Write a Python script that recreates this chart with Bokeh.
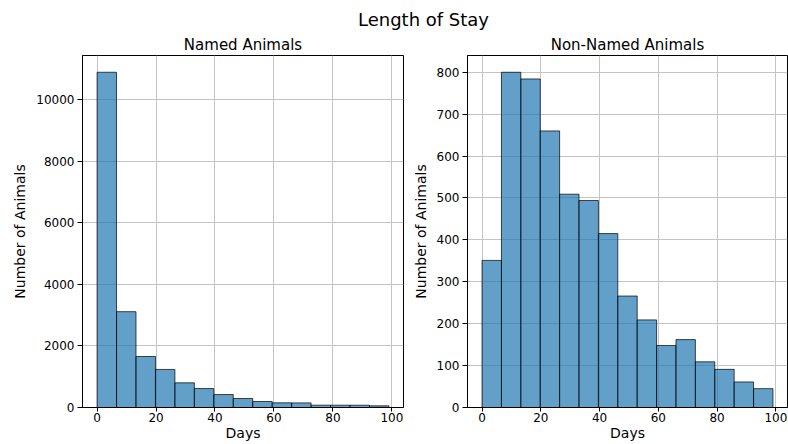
import numpy as np
from bokeh.plotting import figure
from bokeh.layouts import column, row
from bokeh.models import FixedTicker, Label, Range1d
from bokeh.embed import file_html
from bokeh.resources import INLINE

# ---- data ----
bin_start = 0
bin_end = 99
n_bins = 15
named_counts = [10880, 3110, 1655, 1235, 800, 615, 420, 292, 195, 152, 150, 76, 75, 74, 54]
non_named_counts = [351, 800, 784, 660, 509, 494, 415, 266, 209, 148, 162, 109, 91, 61, 45]
x_ticks = [0, 20, 40, 60, 80, 100]
named_y_ticks = [0, 2000, 4000, 6000, 8000, 10000]
non_named_y_ticks = [0, 100, 200, 300, 400, 500, 600, 700, 800]
suptitle = "Length of Stay"
titles = ["Named Animals", "Non-Named Animals"]
x_label = "Days"
y_label = "Number of Animals"

FONT = "DejaVu Sans"
edges = np.linspace(bin_start, bin_end, n_bins + 1)
pad = 0.05 * (bin_end - bin_start)


def style_axis(ax, tick_out, label_standoff, axis_label_standoff):
    ax.axis_label_text_font = FONT
    ax.axis_label_text_font_size = "14px"
    ax.axis_label_text_font_style = "normal"
    ax.axis_label_text_color = "black"
    ax.major_label_text_font = FONT
    ax.major_label_text_font_size = "12px"
    ax.major_label_text_color = "black"
    ax.major_tick_out = tick_out
    ax.major_tick_in = 0
    ax.minor_tick_out = 0
    ax.minor_tick_in = 0
    ax.major_label_standoff = label_standoff
    ax.axis_label_standoff = axis_label_standoff
    ax.axis_line_color = "black"
    ax.major_tick_line_color = "black"


def make_hist(counts, yticks, title, width, bl, br):
    p = figure(width=width, height=412, output_backend="svg", toolbar_location=None,
               x_range=Range1d(bin_start - pad, bin_end + pad),
               y_range=Range1d(0, max(counts) * 1.05),
               min_border_left=bl, min_border_right=br, min_border_top=21,
               min_border_bottom=37, title=title)
    p.quad(left=edges[:-1], right=edges[1:], bottom=0, top=counts,
           fill_color="#1f77b4", fill_alpha=0.7, line_color="black",
           line_alpha=0.7, line_width=1)
    p.title.align = "center"
    p.title.text_font = FONT
    p.title.text_font_size = "15px"
    p.title.text_font_style = "normal"
    p.title.text_color = "black"
    p.title.standoff = 3
    p.xaxis.ticker = FixedTicker(ticks=x_ticks)
    p.yaxis.ticker = FixedTicker(ticks=yticks)
    p.xaxis.axis_label = x_label
    p.yaxis.axis_label = y_label
    style_axis(p.xaxis[0], 4, 1, 0)
    style_axis(p.yaxis[0], 5, 3, 5)
    p.xgrid.ticker = FixedTicker(ticks=x_ticks)
    p.ygrid.ticker = FixedTicker(ticks=yticks)
    p.grid.grid_line_color = "#c4c4c4"
    p.grid.grid_line_width = 1
    p.outline_line_color = "black"
    p.outline_line_width = 1
    return p


p1 = make_hist(named_counts, named_y_ticks, titles[0], 408, 82, 5)
p2 = make_hist(non_named_counts, non_named_y_ticks, titles[1], 380, 59, 1)

top = figure(width=788, height=32, output_backend="svg", toolbar_location=None,
             x_range=Range1d(0, 1), y_range=Range1d(0, 1),
             min_border=0, min_border_left=0, min_border_right=0,
             min_border_top=0, min_border_bottom=0)
top.axis.visible = False
top.grid.visible = False
top.outline_line_color = None
top.add_layout(Label(x=423, y=24, x_units="screen", y_units="screen", text=suptitle,
                     text_align="center", text_baseline="top",
                     text_font=FONT, text_font_size="18px", text_color="black"))

layout = column(top, row(p1, p2))
open("out.html", "w").write(file_html(layout, INLINE))
